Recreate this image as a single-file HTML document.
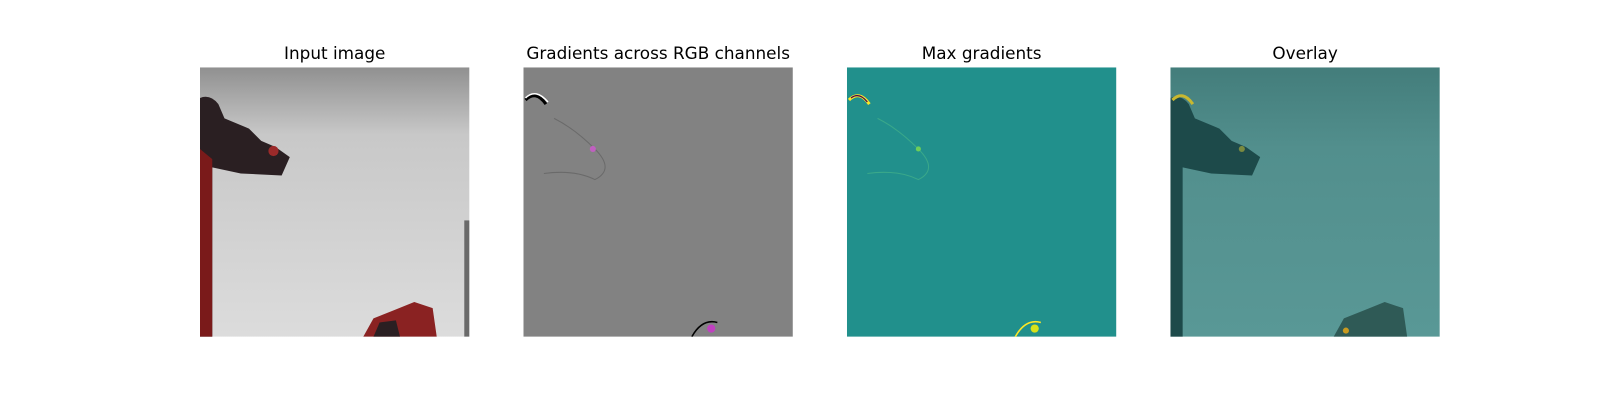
<!DOCTYPE html>
<html><head><meta charset="utf-8"><style>
body{margin:0;background:#fff;width:1600px;height:400px;overflow:hidden;font-family:"DejaVu Sans","Liberation Sans",sans-serif}
</style></head><body>
<svg width="1600" height="400" viewBox="0 0 1568 392" style="display:block">
<defs>
<linearGradient id="cloth" x1="0" y1="0" x2="0" y2="1"><stop offset="0" stop-color="#909090"/><stop offset="0.25" stop-color="#c8c8c8"/><stop offset="1" stop-color="#dcdcdc"/></linearGradient>
<linearGradient id="clothO" x1="0" y1="0" x2="0" y2="1"><stop offset="0" stop-color="#437d7b"/><stop offset="0.3" stop-color="#528f8d"/><stop offset="1" stop-color="#599896"/></linearGradient>
</defs>
<g>
<text x="328" y="58" font-size="16.5" text-anchor="middle">Input image</text>
<svg x="196" y="66" width="264" height="264">
<rect width="264" height="264" fill="url(#cloth)"/>
<path d="M0 30 Q10 26 18 36 L24 50 L48 60 L60 72 L74 78 L88 88 L80 106 L40 104 L12 98 L12 264 L0 264Z" fill="#2a1f22"/>
<path d="M0 80 L12 90 L12 264 L0 264Z" fill="#7a1a1a"/>
<circle cx="72" cy="82" r="5" fill="#9b2a2a"/>
<path d="M160 264 L170 246 L190 238 L210 230 L228 236 L232 264Z" fill="#8a2222"/>
<path d="M170 264 L176 250 L192 248 L196 264Z" fill="#2a1f22"/>
<rect x="259" y="150" width="5" height="114" fill="#6a6a6a"/>
</svg>
</g>
<g>
<text x="645" y="58" font-size="16.5" text-anchor="middle">Gradients across RGB channels</text>
<svg x="513" y="66" width="264" height="264">
<rect width="264" height="264" fill="#828282"/>
<path d="M2 32 Q12 22 22 36" stroke="#000" stroke-width="3" fill="none"/>
<path d="M2 30 Q12 20 24 34" stroke="#fff" stroke-width="1.5" fill="none"/>
<path d="M30 50 Q50 60 70 80 Q90 100 70 110 Q50 100 20 104" stroke="#6a6a6a" stroke-width="1" fill="none"/>
<circle cx="68" cy="80" r="3" fill="#c060c0"/>
<circle cx="184" cy="256" r="4" fill="#c040c0"/>
<path d="M165 264 Q175 246 190 250" stroke="#000" stroke-width="1.5" fill="none"/>
</svg>
</g>
<g>
<text x="962" y="58" font-size="16.5" text-anchor="middle">Max gradients</text>
<svg x="830" y="66" width="264" height="264">
<rect width="264" height="264" fill="#21908c"/>
<path d="M2 32 Q12 22 22 36" stroke="#fde725" stroke-width="3" fill="none"/>
<path d="M4 30 Q12 24 20 34" stroke="#440154" stroke-width="1.2" fill="none"/>
<path d="M30 50 Q50 60 70 80 Q90 100 70 110 Q50 100 20 104" stroke="#3aa88a" stroke-width="1" fill="none"/>
<circle cx="70" cy="80" r="2.5" fill="#6ece58"/>
<circle cx="184" cy="256" r="4" fill="#d8e219"/>
<path d="M165 264 Q175 246 190 250" stroke="#fde725" stroke-width="1.5" fill="none"/>
</svg>
</g>
<g>
<text x="1279" y="58" font-size="16.5" text-anchor="middle">Overlay</text>
<svg x="1147" y="66" width="264" height="264">
<rect width="264" height="264" fill="url(#clothO)"/>
<path d="M0 30 Q10 26 18 36 L24 50 L48 60 L60 72 L74 78 L88 88 L80 106 L40 104 L12 98 L12 264 L0 264Z" fill="#1d4a4a"/>
<path d="M160 264 L170 246 L190 238 L210 230 L228 236 L232 264Z" fill="#2f5a56"/>
<path d="M2 32 Q12 22 22 36" stroke="#c8b830" stroke-width="3" fill="none"/>
<circle cx="70" cy="80" r="3" fill="#7a8a40"/>
<circle cx="172" cy="258" r="3" fill="#c89a20"/>
</svg>
</g>
</svg>
</body></html>
